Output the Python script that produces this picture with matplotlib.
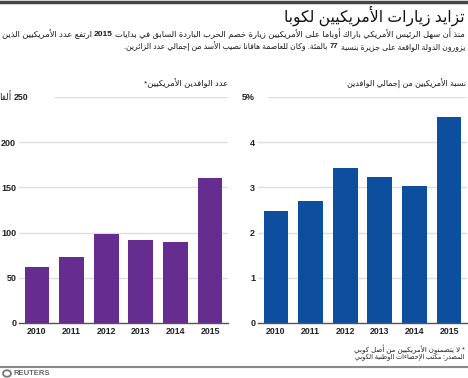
import re
import matplotlib
matplotlib.use("Agg")
import matplotlib.pyplot as plt
from matplotlib.patches import Circle

plt.rcParams['font.family'] = ['Liberation Sans', 'DejaVu Sans']

# ---------------- data ----------------
years = ['2010', '2011', '2012', '2013', '2014', '2015']
visitors_k = [62, 73, 98, 92, 90, 160]          # thousands of US visitors
share_pct = [2.47, 2.69, 3.43, 3.22, 3.02, 4.55]  # % of all visitors
left_ticks = [0, 50, 100, 150, 200, 250]
right_ticks = [0, 1, 2, 3, 4, 5]

title = 'تزايد زيارات الأمريكيين لكوبا'
sub1 = 'منذ أن سهل الرئيس الأمريكي باراك أوباما على الأمريكيين زيارة خصم الحرب الباردة السابق في بدايات 2015 ارتفع عدد الأمريكيين الذين'
sub2 = 'يزورون الدولة الواقعة على جزيرة بنسبة 77 بالمئة. وكان للعاصمة هافانا نصيب الأسد من إجمالي عدد الزائرين.'
left_title = 'عدد الوافدين الأمريكيين*'
right_title = 'نسبة الأمريكيين من إجمالي الوافدين'
thousand = 'ألفا'
note = '* لا يتضمنون الأمريكيين من أصل كوبي'
source = 'المصدر: مكتب الإحصاءات الوطنية الكوبي'

PURPLE = '#662D91'
BLUE = '#0E4E9E'
GRID = '#DEDEDE'

# ---------------- minimal Arabic shaping ----------------
_dual = {'ئ': 0xFE89, 'ب': 0xFE8F, 'ت': 0xFE95, 'ث': 0xFE99, 'ج': 0xFE9D, 'ح': 0xFEA1,
         'خ': 0xFEA5, 'س': 0xFEB1, 'ش': 0xFEB5, 'ص': 0xFEB9, 'ض': 0xFEBD, 'ط': 0xFEC1,
         'ظ': 0xFEC5, 'ع': 0xFEC9, 'غ': 0xFECD, 'ف': 0xFED1, 'ق': 0xFED5, 'ك': 0xFED9,
         'ل': 0xFEDD, 'م': 0xFEE1, 'ن': 0xFEE5, 'ه': 0xFEE9, 'ي': 0xFEF1}
_right = {'آ': 0xFE81, 'أ': 0xFE83, 'ؤ': 0xFE85, 'إ': 0xFE87, 'ا': 0xFE8D, 'ة': 0xFE93,
          'د': 0xFEA9, 'ذ': 0xFEAB, 'ر': 0xFEAD, 'ز': 0xFEAF, 'و': 0xFEED, 'ى': 0xFEEF}
_lamalef = {'آ': 0xFEF5, 'أ': 0xFEF7, 'إ': 0xFEF9, 'ا': 0xFEFB}


def shape(s):
    out = []
    i, n = 0, len(s)
    while i < n:
        c = s[i]
        prev = s[i - 1] if i > 0 else ''
        jp = prev in _dual
        if c == 'ل' and i + 1 < n and s[i + 1] in _lamalef:
            out.append(chr(_lamalef[s[i + 1]] + (1 if jp else 0)))
            i += 2
            continue
        nxt = s[i + 1] if i + 1 < n else ''
        jn = (nxt in _dual) or (nxt in _right)
        if c in _dual:
            b = _dual[c]
            g = b + 3 if (jp and jn) else b + 1 if jp else b + 2 if jn else b
            out.append(chr(g))
        elif c in _right:
            out.append(chr(_right[c] + (1 if jp else 0)))
        elif c == 'ء':
            out.append('\uFE80')
        else:
            out.append(c)
        i += 1
    return ''.join(out)


def ar(s):
    t = shape(s)[::-1]
    return re.sub(r'[0-9A-Za-z%]+', lambda m: m.group(0)[::-1], t)


# ---------------- figure ----------------
W, H = 468, 378
fig = plt.figure(figsize=(W / 100, H / 100), dpi=100)
renderer = fig.canvas.get_renderer()


def fx(x):
    return x / W


def fy(y):
    return 1 - y / H


def text_width(s, size, weight):
    t = fig.text(0, 0, s, fontsize=size, fontweight=weight)
    w = t.get_window_extent(renderer).width
    t.remove()
    return w


def rtl_line(x_right, y, visual, size, color='#1a1a1a', target=None, bold_digits=True):
    parts = [p for p in re.split(r'(\d+)', visual) if p != '']
    segs = [(p, 'bold' if (bold_digits and p.isdigit()) else 'normal') for p in parts]

    def draw(sz):
        sp = text_width('a a', sz, 'normal') - text_width('aa', sz, 'normal')
        arts = []
        x = x_right
        for txt, wt in reversed(segs):
            trail = len(txt) - len(txt.rstrip(' '))
            lead = len(txt) - len(txt.lstrip(' '))
            core = txt.strip(' ')
            x -= trail * sp
            if core:
                t = fig.text(fx(x), fy(y), core, ha='right', va='center',
                             fontsize=sz, fontweight=wt, color=color)
                x -= t.get_window_extent(renderer).width
                arts.append(t)
            x -= lead * sp
        return arts, x_right - x

    arts, w = draw(size)
    if target:
        for a in arts:
            a.remove()
        arts, w = draw(size * target / w)
    return arts


# top rule
fig.add_artist(plt.Line2D([0, 1], [fy(2), fy(2)], color='#454545', lw=2.5))

# title and subtitle
rtl_line(465, 16, ar(title), 14, color='#111111', target=182)
rtl_line(465, 34, ar(sub1), 7.5, target=463)
rtl_line(465, 47, ar(sub2), 7.5, target=340)

# panel titles
rtl_line(228, 83, ar(left_title), 7.5, target=84)
rtl_line(466, 84, ar(right_title), 7.5, target=119)


def make_axes(x0, x1, y_top, y_bot):
    return fig.add_axes([fx(x0), fy(y_bot), (x1 - x0) / W, (y_bot - y_top) / H])


def style(ax, values, color, ticks, top, first_grid_start):
    x = list(range(len(years)))
    for tk in ticks[1:]:
        start = first_grid_start if tk == ticks[-1] else 0
        ax.axhline(tk, xmin=start, xmax=1, color=GRID, lw=1, zorder=0)
    ax.bar(x, values, width=0.72, color=color, zorder=2)
    ax.set_xlim(-0.52, len(years) - 0.48)
    ax.set_ylim(0, top)
    ax.set_xticks(x)
    ax.set_xticklabels(years, fontsize=6.3, fontweight='bold', color='#222222')
    ax.set_yticks(ticks)
    for s in ['top', 'right', 'left']:
        ax.spines[s].set_visible(False)
    ax.spines['bottom'].set_color('#555555')
    ax.spines['bottom'].set_linewidth(1.0)
    ax.spines['bottom'].set_zorder(3)
    ax.tick_params(axis='both', length=0)
    ax.tick_params(axis='x', pad=3)
    ax.tick_params(axis='y', pad=2)
    ax.set_facecolor('none')


axL = make_axes(19, 228, 97, 323)
style(axL, visitors_k, PURPLE, left_ticks, 250, 0.172)
axL.set_yticklabels([str(t) for t in left_ticks[:-1]] + [''], fontsize=6.5,
                    fontweight='bold', color='#222222')
rtl_line(28, 97, ar(str(left_ticks[-1]) + ' ' + thousand), 6.3, color='#222222')

axR = make_axes(258, 467, 97, 323)
style(axR, share_pct, BLUE, right_ticks, 5, 0.048)
axR.set_yticklabels([str(t) for t in right_ticks[:-1]] + [f'{right_ticks[-1]}%'],
                    fontsize=6.5, fontweight='bold', color='#222222')

# footnotes
rtl_line(465, 349, ar(note), 6.2, color='#222222', target=111)
rtl_line(465, 358, ar(source), 6.2, color='#222222', target=111)

# footer rule and Reuters credit
fig.add_artist(plt.Line2D([0, 1], [fy(367), fy(367)], color='#8a8a8a', lw=1.5))
fig.add_artist(Circle((fx(7), fy(373.5)), 4 / W, transform=fig.transFigure,
                      fill=False, edgecolor='#777777', lw=1.3))
fig.text(fx(14), fy(373.5), 'REUTERS', fontsize=5.5, fontweight='bold',
         color='#666666', ha='left', va='center')

fig.savefig('out.png', dpi=100)
